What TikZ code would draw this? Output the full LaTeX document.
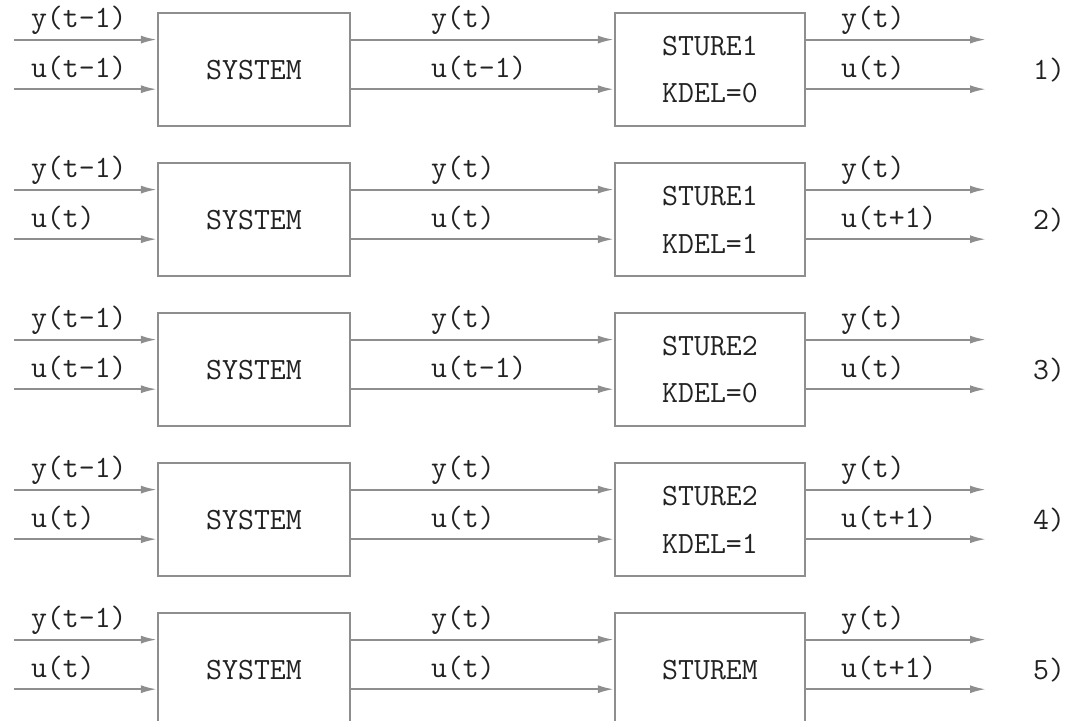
\documentclass[tikz,border=0pt]{standalone}
\usetikzlibrary{arrows.meta, positioning}
\definecolor{cline}{HTML}{8E8E8E}
\definecolor{ctext}{HTML}{222222}
\tikzset{
  every picture/.style={font=\ttfamily\fontsize{22}{34}\selectfont, line width=1.5pt},
  box/.style={draw=cline, minimum width=4.8cm, minimum height=2.83cm, align=center, inner sep=0pt, text=ctext},
  arrow/.style={-{Latex[length=4mm, width=2mm]}, draw=cline},
  sig/.style={anchor=base west, inner sep=0pt, text=ctext},
  tag/.style={anchor=east, inner sep=0pt, text=ctext},
}

\begin{document}
\begin{tikzpicture}
  \useasboundingbox (0,0) rectangle (26.9,-18.025);
  \foreach \i/\uin/\umid/\ctl/\uout in {
      1/{u(t-1)}/{u(t-1)}/{STURE1\\KDEL=0}/{u(t)},
      2/{u(t)}/{u(t)}/{STURE1\\KDEL=1}/{u(t+1)},
      3/{u(t-1)}/{u(t-1)}/{STURE2\\KDEL=0}/{u(t)},
      4/{u(t)}/{u(t)}/{STURE2\\KDEL=1}/{u(t+1)},
      5/{u(t)}/{u(t)}/{STUREM}/{u(t+1)}} {
    \pgfmathsetmacro{\yc}{-1.74-3.75*(\i-1)}
    \node[box] (sys\i) at (6.35, \yc) {SYSTEM};
    \node[box, minimum width=4.75cm] (ctl\i) at (17.75, \yc) {\ctl};
    % free ends of the outer connectors
    \coordinate (ya\i) at (0.35, \yc+0.75); \coordinate (ua\i) at (0.35, \yc-0.49);
    \coordinate (yz\i) at (24.65, \yc+0.75); \coordinate (uz\i) at (24.65, \yc-0.49);
    \draw[arrow] (ya\i) -- (ya\i -| sys\i.west); \draw[arrow] (ua\i) -- (ua\i -| sys\i.west);
    \draw[arrow] (sys\i.east |- ya\i) -- (ctl\i.west |- ya\i); \draw[arrow] (sys\i.east |- ua\i) -- (ctl\i.west |- ua\i);
    \draw[arrow] (ctl\i.east |- yz\i) -- (yz\i); \draw[arrow] (ctl\i.east |- uz\i) -- (uz\i);
    % signal names
    \node[sig] (ly\i) at (0.75, \yc+1.05) {y(t-1)};
    \node[sig] (lu\i) at (0.75, \yc-0.19) {\uin};
    \node[sig] (my\i) at (10.75, \yc+1.05) {y(t)};
    \node[sig] (mu\i) at (10.75, \yc-0.19) {\umid};
    \node[sig] (ry\i) at (21.0, \yc+1.05) {y(t)};
    \node[sig] (ru\i) at (21.0, \yc-0.19) {\uout};
    \node[tag] (t\i) at (26.65, \yc) {\i)};
  }
\end{tikzpicture}
\end{document}
